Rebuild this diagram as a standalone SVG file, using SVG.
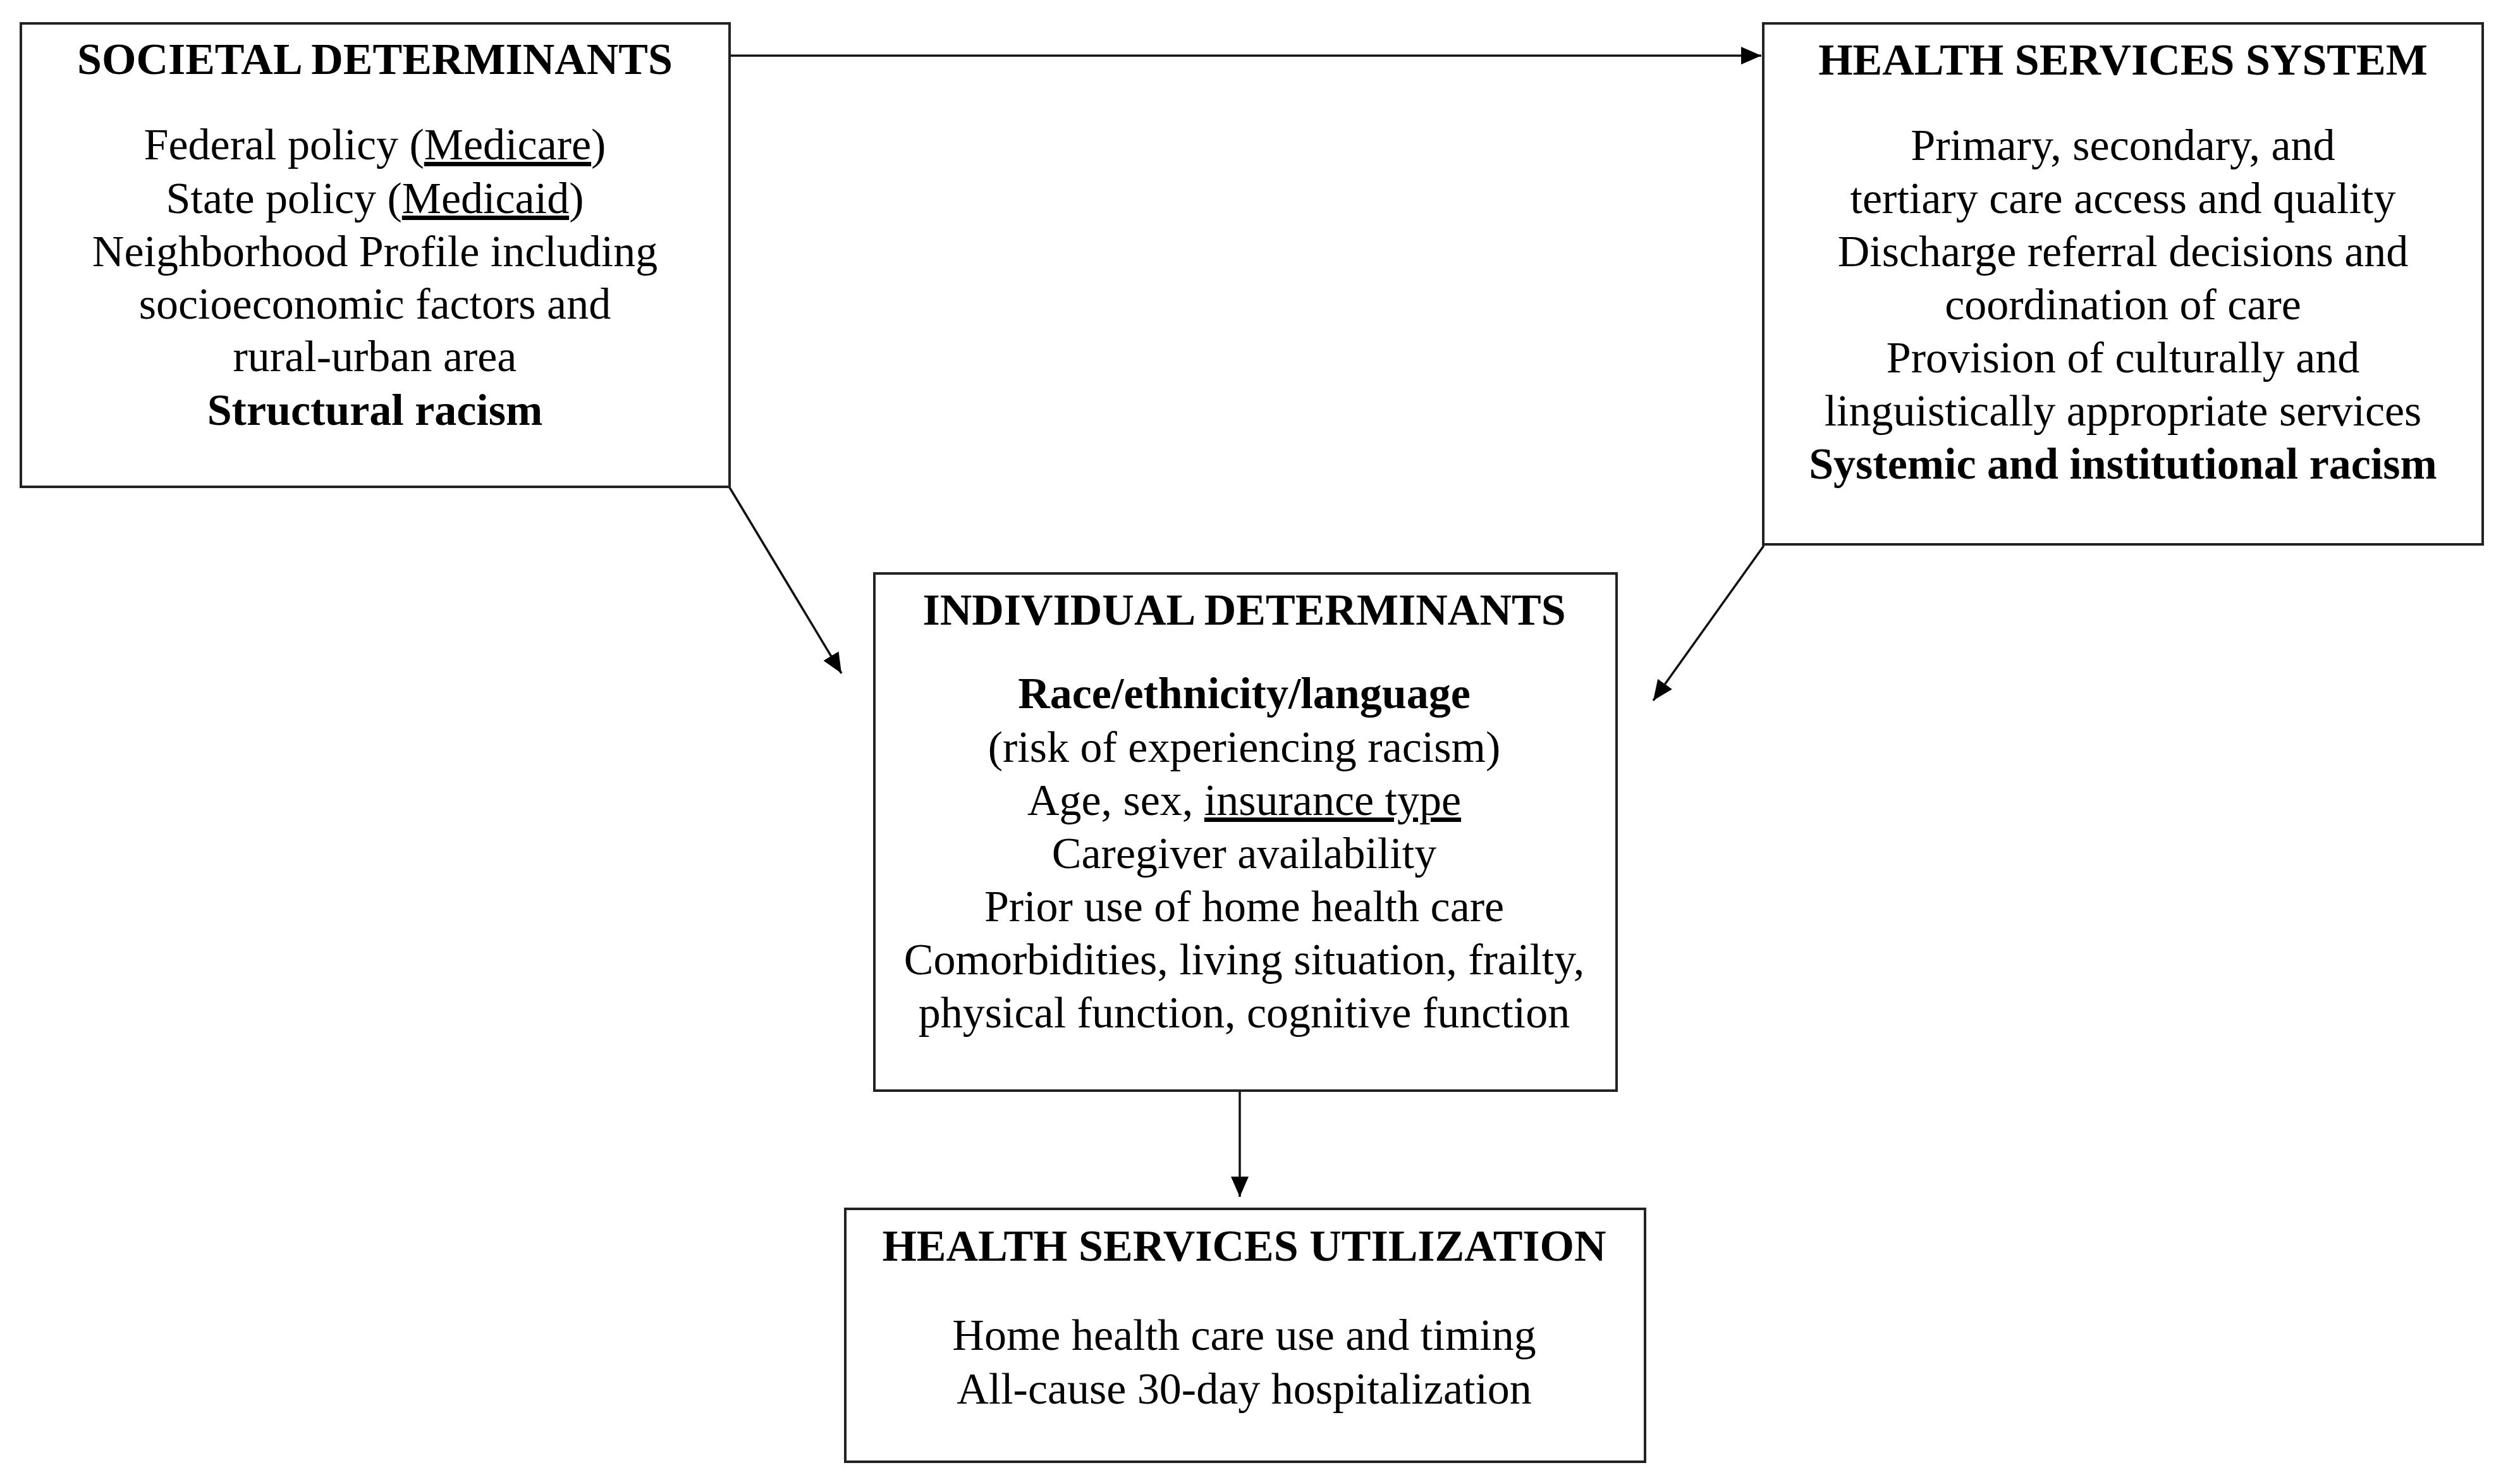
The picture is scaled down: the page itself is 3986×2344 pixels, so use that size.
<svg xmlns="http://www.w3.org/2000/svg" width="3986" height="2344" viewBox="0 0 3986 2344">
<style>
.box{fill:#fff;stroke:#222;stroke-width:4}
.t{font-family:"Liberation Serif","Times New Roman",serif;font-size:70px;fill:#000;text-anchor:middle}
.b{font-weight:bold}
.u{text-decoration:underline}
.c{stroke:#111;stroke-width:3.5;fill:none}
</style>
<defs>
<marker id="ah" markerWidth="10" markerHeight="10" refX="9" refY="5" orient="auto" markerUnits="userSpaceOnUse" viewBox="0 0 10 10">
<path d="M0,0 L10,5 L0,10 z" fill="#000"/>
</marker>
<marker id="arr" viewBox="0 0 32 28" refX="32" refY="14" markerWidth="32" markerHeight="28" orient="auto" markerUnits="userSpaceOnUse">
<path d="M0,0 L32,14 L0,28 z" fill="#000"/>
</marker>
</defs>
<rect width="3986" height="2344" fill="#fff"/>
<g id="connectors">
<line class="c" x1="1154" y1="88" x2="2786" y2="88" marker-end="url(#arr)"/>
<line class="c" x1="1154" y1="771" x2="1331" y2="1065" marker-end="url(#arr)"/>
<line class="c" x1="2790" y1="863" x2="2615" y2="1108" marker-end="url(#arr)"/>
<line class="c" x1="1961" y1="1725" x2="1961" y2="1893" marker-end="url(#arr)"/>
</g>
<g id="societal">
<rect class="box" x="33" y="37" width="1121" height="733"/>
<text class="t b" x="593" y="117">SOCIETAL DETERMINANTS</text>
<text class="t" x="593" y="252">Federal policy (<tspan class="u">Medicare</tspan>)</text>
<text class="t" x="593" y="337">State policy (<tspan class="u">Medicaid</tspan>)</text>
<text class="t" x="593" y="421">Neighborhood Profile including</text>
<text class="t" x="593" y="504">socioeconomic factors and</text>
<text class="t" x="593" y="587">rural-urban area</text>
<text class="t b" x="593" y="672">Structural racism</text>
</g>
<g id="health-services-system">
<rect class="box" x="2789" y="37" width="1138" height="824"/>
<text class="t b" x="3358" y="118">HEALTH SERVICES SYSTEM</text>
<text class="t" x="3358" y="253">Primary, secondary, and</text>
<text class="t" x="3358" y="337">tertiary care access and quality</text>
<text class="t" x="3358" y="421">Discharge referral decisions and</text>
<text class="t" x="3358" y="505">coordination of care</text>
<text class="t" x="3358" y="589">Provision of culturally and</text>
<text class="t" x="3358" y="673">linguistically appropriate services</text>
<text class="t b" x="3358" y="757">Systemic and institutional racism</text>
</g>
<g id="individual">
<rect class="box" x="1383" y="907" width="1174" height="818"/>
<text class="t b" x="1968" y="988">INDIVIDUAL DETERMINANTS</text>
<text class="t b" x="1968" y="1120">Race/ethnicity/language</text>
<text class="t" x="1968" y="1205">(risk of experiencing racism)</text>
<text class="t" x="1968" y="1289">Age, sex, <tspan class="u">insurance type</tspan></text>
<text class="t" x="1968" y="1373">Caregiver availability</text>
<text class="t" x="1968" y="1457">Prior use of home health care</text>
<text class="t" x="1968" y="1541">Comorbidities, living situation, frailty,</text>
<text class="t" x="1968" y="1625">physical function, cognitive function</text>
</g>
<g id="utilization">
<rect class="box" x="1337" y="1912" width="1265" height="400"/>
<text class="t b" x="1968" y="1994">HEALTH SERVICES UTILIZATION</text>
<text class="t" x="1968" y="2135">Home health care use and timing</text>
<text class="t" x="1968" y="2220">All-cause 30-day hospitalization</text>
</g>
</svg>
